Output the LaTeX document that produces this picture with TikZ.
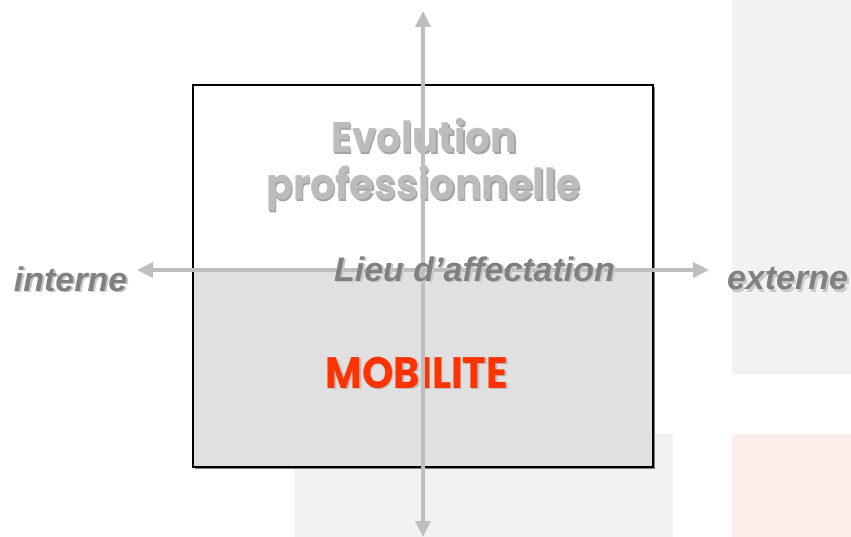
\documentclass[tikz,border=0pt]{standalone}
\usepackage{fontspec}
\setmainfont{Liberation Sans}
\newfontfamily\geofont{Poppins}
\usetikzlibrary{arrows.meta}
\definecolor{bggray}{RGB}{242,242,242}
\definecolor{bgpink}{RGB}{253,238,234}
\definecolor{boxgray}{RGB}{224,224,224}
\definecolor{axisgray}{RGB}{190,190,190}
\definecolor{labgray}{RGB}{128,128,128}
\definecolor{labshadow}{RGB}{200,200,200}
\definecolor{titlegray}{RGB}{188,188,188}
\definecolor{titleshadow}{RGB}{165,165,165}
\definecolor{mobshadow}{RGB}{190,190,190}
\definecolor{mobred}{RGB}{255,51,0}
\tikzset{
  axisarrow/.style={draw=axisgray, line width=3.5pt, {Triangle[length=16pt,width=15pt]}-{Triangle[length=16pt,width=15pt]}},
  italab/.style={inner sep=0pt, anchor=base, font=\fontsize{34}{40}\selectfont\bfseries\itshape},
  geolab/.style={inner sep=0pt, anchor=base, font=\geofont\fontsize{40}{48}\selectfont\bfseries},
}
\begin{document}
\begin{tikzpicture}[x=1pt,y=-1pt]
\useasboundingbox (0,0) rectangle (851,537);
% background panels
\fill[bggray] (732,0) rectangle (851,374);
\fill[bggray] (294,434) rectangle (673,537);
\fill[bgpink] (732,434) rectangle (851,537);
% main box
\fill[labgray] (195,87) rectangle (655,469);
\fill[white] (193,85) rectangle (653,272);
\fill[boxgray] (193,272) rectangle (653,467);
\draw[black, line width=1.6pt] (193,85) rectangle (653,467);
% titles (with drop shadows)
\node[geolab, text=titleshadow] (evosh) at (425.5,154.5) {\scalebox{0.97}[1.07]{Evolution}};
\node[geolab, text=titlegray] (evo) at (424,153) {\scalebox{0.97}[1.07]{Evolution}};
\node[geolab, text=titleshadow] (profsh) at (425,201.5) {\scalebox{0.99}[1.07]{professionnelle}};
\node[geolab, text=titlegray] (prof) at (423.5,200) {\scalebox{0.99}[1.07]{professionnelle}};
\node[geolab, text=mobshadow] (mobsh) at (418.5,389.5) {\scalebox{1}[1.1]{MOBILITE}};
\node[geolab, text=mobred] (mob) at (417,388) {\scalebox{1}[1.1]{MOBILITE}};
% axes
\coordinate (top) at (423,11);
\coordinate (bottom) at (423,537);
\coordinate (left) at (137,270);
\coordinate (right) at (709,270);
\draw[axisarrow] (bottom) -- (top);
\draw[axisarrow] (left) -- (right);
% axis labels (with drop shadows)
\node[italab, text=labshadow] (lieush) at (476.5,283) {Lieu d’affectation};
\node[italab, text=labgray] (lieu) at (474.5,281) {Lieu d’affectation};
\node[italab, text=labshadow] (intsh) at (72.5,293) {interne};
\node[italab, text=labgray] (int) at (70.5,291) {interne};
\node[italab, text=labshadow] (extsh) at (789.5,292) {externe};
\node[italab, text=labgray] (ext) at (787.5,290) {externe};
\end{tikzpicture}
\end{document}
